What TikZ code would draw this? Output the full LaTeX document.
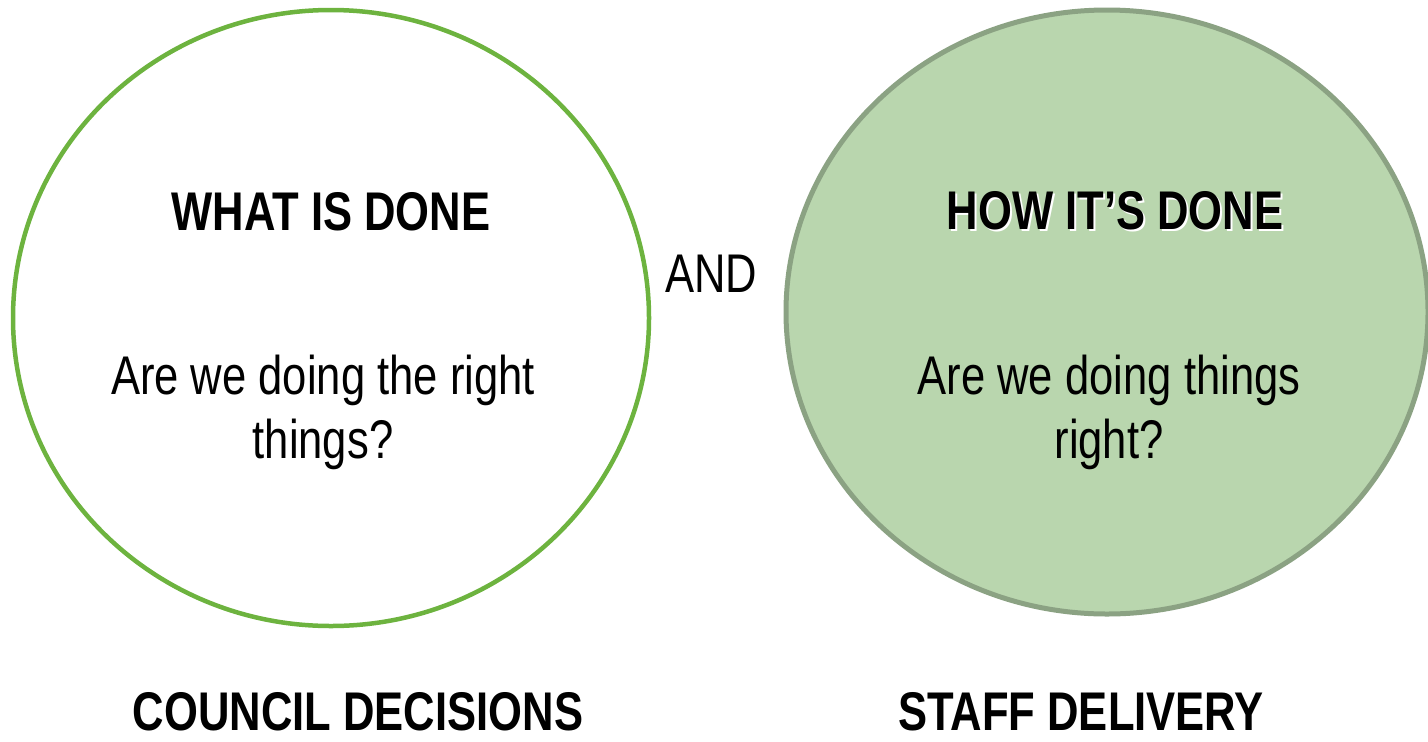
\documentclass[tikz,border=0pt]{standalone}
\usepackage{fontspec}
\setmainfont{Liberation Sans}[FakeStretch=0.8]
\definecolor{leafgreen}{HTML}{6DB33F}
\definecolor{sagefill}{HTML}{B9D6AE}
\definecolor{sageline}{HTML}{8BA283}

\begin{document}
\begin{tikzpicture}[x=0.2mm,y=-0.2mm,font=\fontsize{31}{36}\selectfont,
    heading/.style={anchor=base,inner sep=0pt,font=\fontsize{31}{36}\selectfont\bfseries},
    question/.style={anchor=base,align=center,font=\fontsize{31}{36}\selectfont}]
    \useasboundingbox (0,0) rectangle (1428,741);
    % the two circles
    \draw[leafgreen,line width=0.9mm] (331,318) ellipse [x radius=318,y radius=308];
    \draw[sageline,fill=sagefill,line width=1mm] (1107,312) ellipse [x radius=321,y radius=302];
    % texts inside the circles (base = baseline of the last line)
    \node[heading] (what) at (331,230) {WHAT IS DONE};
    \node[question] (rightthings) at (323,458) {Are we doing the right\\things?};
    \node[heading,white] (howshadow) at (1117,231) {HOW IT’S DONE};
    \node[heading] (how) at (1115,229) {HOW IT’S DONE};
    \node[question] (thingsright) at (1109,458) {Are we doing things\\right?};
    \node[anchor=base] (and) at (711,292) {AND};
    % captions under the circles
    \node[heading] (council) at (358,730) {COUNCIL DECISIONS};
    \node[heading] (staff) at (1081,730) {STAFF DELIVERY};
\end{tikzpicture}
\end{document}
